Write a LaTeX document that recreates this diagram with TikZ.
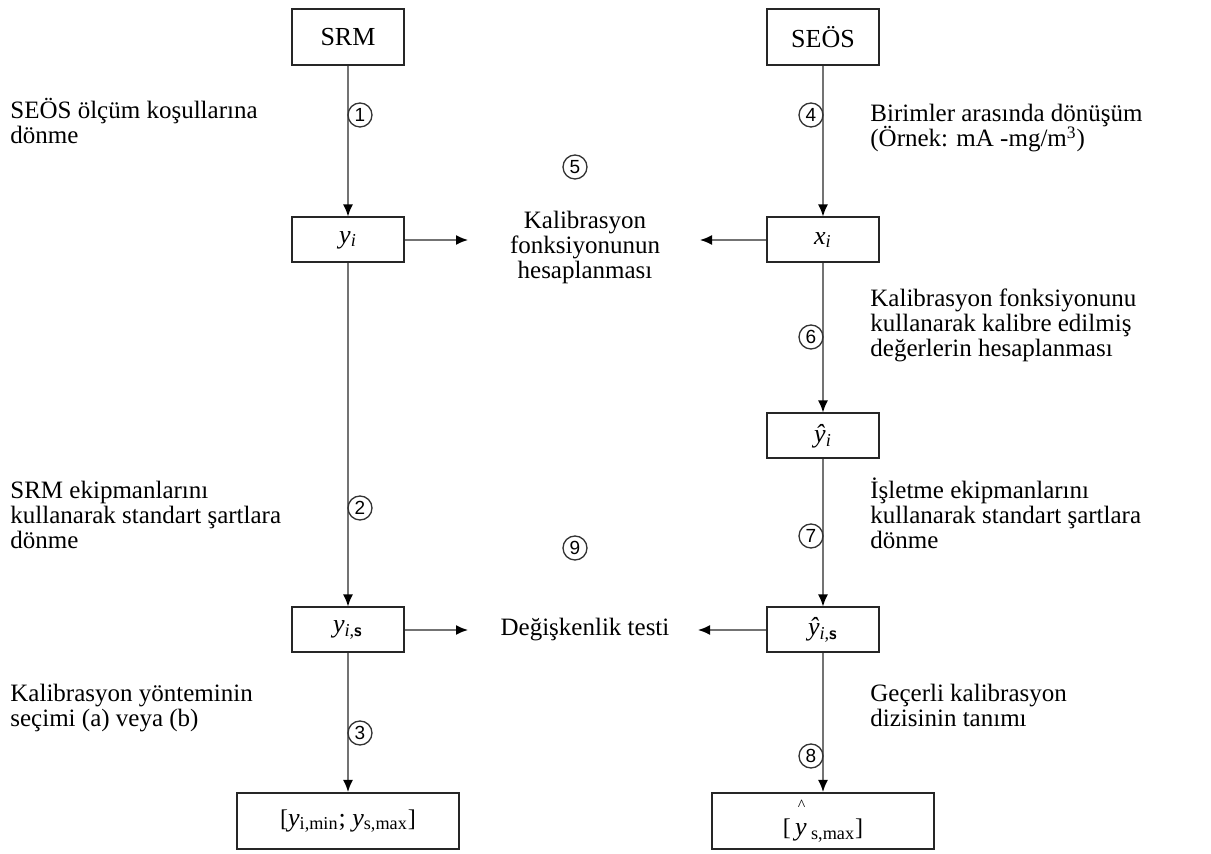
\documentclass[tikz,border=0pt]{standalone}
\usepackage{fontspec}
\setmainfont{Liberation Serif}
\newfontfamily\numfont{Liberation Sans}
\usetikzlibrary{arrows.meta}

\begin{document}
\begin{tikzpicture}[x = .5pt, y = -.5pt,
		kutu/.style = {draw = black!85, line width = 1pt, minimum width = 56pt, minimum height = 28pt, inner sep = 0pt, font = \fontsize{13}{13}\selectfont},
		kucuk/.style = {kutu, minimum height = 22.5pt},
		genis/.style = {kutu, minimum width = 111pt},
		ok/.style = {draw = black!55, line width = .8pt, -{Latex[length = 6pt, width = 5pt, black]}},
		daire/.style = {draw = black!80, circle, line width = .65pt, minimum size = 12pt, inner sep = 0pt, font = \numfont\fontsize{9.5}{9.5}\selectfont},
		yazi/.style = {align = left, anchor = base west, inner sep = 0pt, font = {\fontsize{12.5}{12.5}\selectfont\lineskiplimit=-20pt}},
		orta/.style = {yazi, align = center, anchor = base}]
	\useasboundingbox (0,0) rectangle (1211,854);
	% kutular
	\node[kutu] (srm) at (348,37) {SRM};
	\node[kutu] (seos) at (823,37) {SEÖS};
	\node[kucuk] (yi) at (348,240) {\textit{y}\textsubscript{\textit{i}}};
	\node[kucuk] (xi) at (823,240) {\textit{x}\textsubscript{\textit{i}}};
	\node[kucuk] (yhi) at (823,436) {\textit{ŷ}\textsubscript{\textit{i}}};
	\node[kucuk] (yis) at (348,630) {\textit{y}\textsubscript{\textit{i},\textsf{\textbf{s}}}};
	\node[kucuk] (yhis) at (823,630) {\textit{ŷ}\textsubscript{\textit{i},\textsf{\textbf{s}}}};
	\node[genis] (aralik) at (348,821) {{\large[}\textit{y}\textsubscript{i,min}; \textit{y}\textsubscript{s,max}{\large]}};
	\node[genis] (aralikh) at (823,821) {{\large[}\,\rlap{\raisebox{2.1ex}{\hspace{.1em}\footnotesize\textasciicircum}}\textit{y}\,\textsubscript{s,max}{\large]}};
	% oklar
	\draw[ok] (srm) -- (yi);
	\draw[ok] (yi) -- (yis);
	\draw[ok] (yis) -- (aralik);
	\draw[ok] (seos) -- (xi);
	\draw[ok] (xi) -- (yhi);
	\draw[ok] (yhi) -- (yhis);
	\draw[ok] (yhis) -- (aralikh);
	\coordinate (k1) at (468,240);
	\coordinate (k2) at (700,240);
	\coordinate (k3) at (468,630);
	\coordinate (k4) at (698,630);
	\draw[ok] (yi) -- (k1);
	\draw[ok] (xi) -- (k2);
	\draw[ok] (yis) -- (k3);
	\draw[ok] (yhis) -- (k4);
	% numaralar
	\node[daire] (n1) at (360,115) {1};
	\node[daire] (n2) at (360,508) {2};
	\node[daire] (n3) at (360,733) {3};
	\node[daire] (n4) at (811,115) {4};
	\node[daire] (n5) at (575,167) {5};
	\node[daire] (n6) at (811,337) {6};
	\node[daire] (n7) at (811,536) {7};
	\node[daire] (n8) at (811,756) {8};
	\node[daire] (n9) at (575,548) {9};
	% aciklamalar
	\node[yazi] (t1) at (10,144) {SEÖS ölçüm koşullarına\\dönme};
	\node[yazi] (t4) at (870,147) {Birimler arasında dönüşüm\\(Örnek: mA -mg/m\textsuperscript{3})};
	\node[orta] (t5) at (585,279) {Kalibrasyon\\fonksiyonunun\\hesaplanması};
	\node[yazi] (t6) at (870,357) {Kalibrasyon fonksiyonunu\\kullanarak kalibre edilmiş\\değerlerin hesaplanması};
	\node[yazi] (t2) at (10,549) {SRM ekipmanlarını\\kullanarak standart şartlara\\dönme};
	\node[yazi] (t7) at (870,549) {İşletme ekipmanlarını\\kullanarak standart şartlara\\dönme};
	\node[orta] (t9) at (585,636) {Değişkenlik testi};
	\node[yazi] (t3) at (10,727) {Kalibrasyon yönteminin\\seçimi (a) veya (b)};
	\node[yazi] (t8) at (870,727) {Geçerli kalibrasyon\\dizisinin tanımı};
\end{tikzpicture}
\end{document}
